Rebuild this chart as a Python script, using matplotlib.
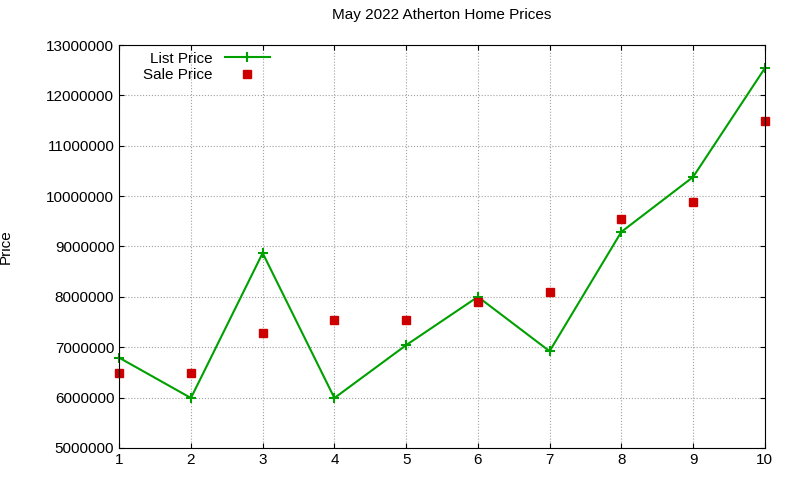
import matplotlib
matplotlib.use('Agg')
import matplotlib.pyplot as plt
from matplotlib.ticker import MultipleLocator, FormatStrFormatter

homes = [1, 2, 3, 4, 5, 6, 7, 8, 9, 10]
list_price = [6790000, 5990000, 8870000, 5990000, 7040000, 8000000, 6920000, 9290000, 10380000, 12540000]
sale_price = [6490000, 6490000, 7280000, 7540000, 7540000, 7900000, 8100000, 9540000, 9880000, 11490000]

plt.rcParams['font.family'] = 'Liberation Sans'
fig = plt.figure(figsize=(8, 4.8), dpi=100)
ax = fig.add_axes([0.149, 0.067, 0.807, 0.839])

ax.plot(homes, list_price, color='#00a000', marker='+', markersize=7,
        markeredgewidth=1.5, linewidth=1.5, label='List Price', clip_on=False)
ax.plot(homes, sale_price, linestyle='none', marker='s', markersize=6,
        color='#cc0000', label='Sale Price', clip_on=False)

ax.set_xlim(1, 10)
ax.set_ylim(5000000, 13000000)
ax.xaxis.set_major_locator(MultipleLocator(1))
ax.yaxis.set_major_locator(MultipleLocator(1000000))
ax.yaxis.set_major_formatter(FormatStrFormatter('%d'))
ax.tick_params(direction='in', labelsize=11, top=True, right=True)
ax.grid(True, color='#a0a0a0', linestyle=':', linewidth=0.8)
ax.set_ylabel('Price', fontsize=11)
ax.yaxis.set_label_coords(-0.165, 0.5)
ax.set_title('May 2022 Atherton Home Prices', fontsize=11, pad=19)
ax.legend(loc='upper left', markerfirst=False, frameon=False, fontsize=11,
          bbox_to_anchor=(0.02, 1.01), handlelength=3, labelspacing=0.15,
          borderpad=0.2)

fig.savefig('out.png')
